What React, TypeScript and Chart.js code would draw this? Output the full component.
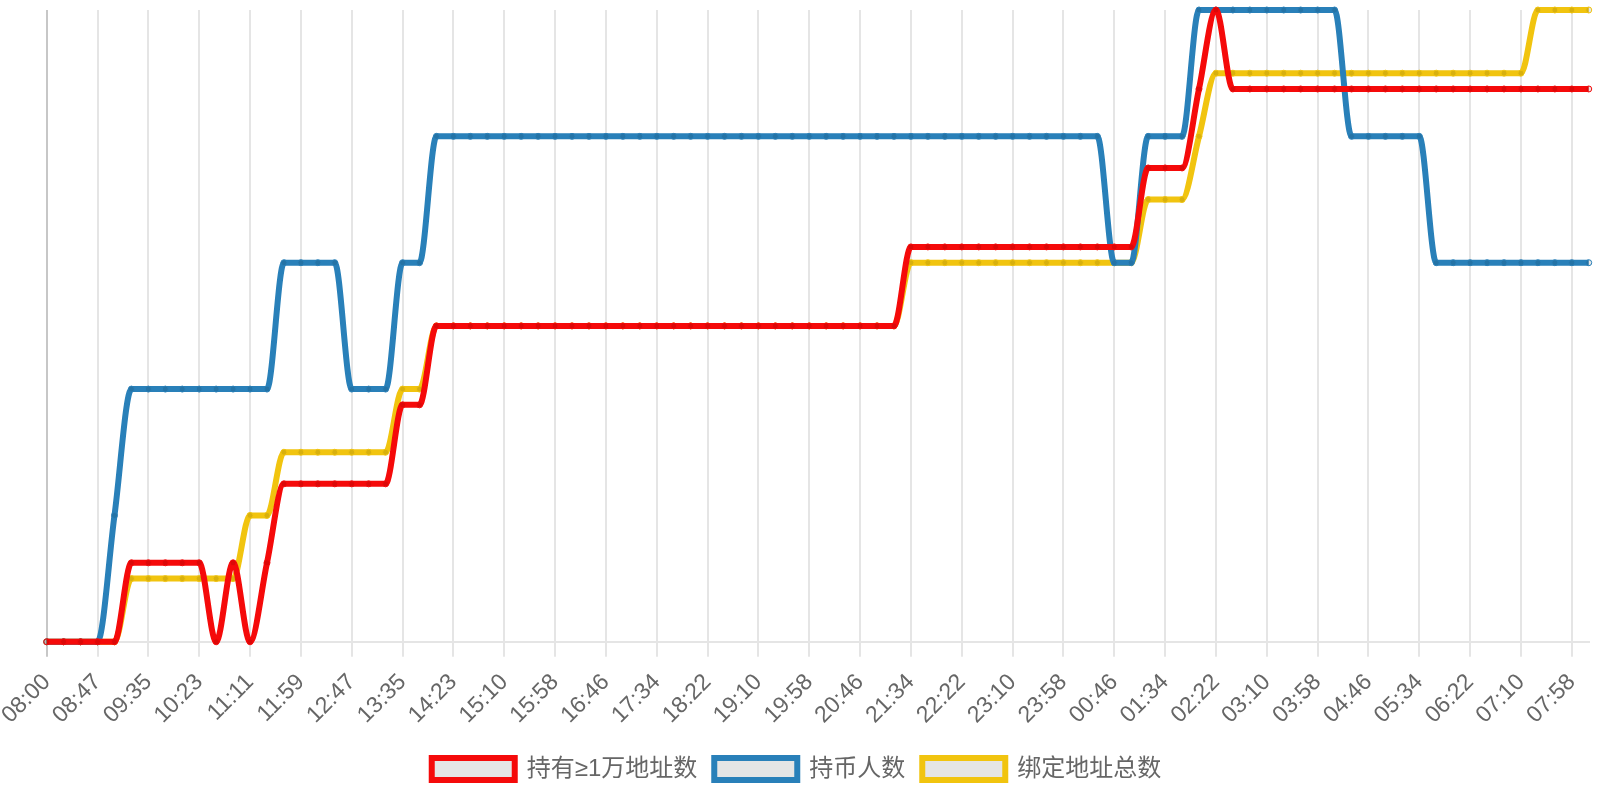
import React, { useEffect, useRef } from 'react';
import { Chart, registerables } from 'chart.js';

Chart.register(...registerables);

// time of each sample (only every 3rd one is shown on the axis)
const timeLabels = [
  '08:00', '08:16', '08:31', '08:47', '09:03', '09:19', '09:35', '09:51', '10:07',
  '10:23', '10:39', '10:55', '11:11', '11:27', '11:43', '11:59', '12:15', '12:31',
  '12:47', '13:03', '13:19', '13:35', '13:51', '14:07', '14:23', '14:39', '14:54',
  '15:10', '15:26', '15:42', '15:58', '16:14', '16:30', '16:46', '17:02', '17:18',
  '17:34', '17:50', '18:06', '18:22', '18:38', '18:54', '19:10', '19:26', '19:42',
  '19:58', '20:14', '20:30', '20:46', '21:02', '21:18', '21:34', '21:50', '22:06',
  '22:22', '22:38', '22:54', '23:10', '23:26', '23:42', '23:58', '00:14', '00:30',
  '00:46', '01:02', '01:18', '01:34', '01:50', '02:06', '02:22', '02:38', '02:54',
  '03:10', '03:26', '03:42', '03:58', '04:14', '04:30', '04:46', '05:02', '05:18',
  '05:34', '05:50', '06:06', '06:22', '06:38', '06:54', '07:10', '07:26', '07:42',
  '07:58', '08:13',
];

// 持有≥1万地址数
const bigHolders = [
  0, 0, 0, 0, 0, 1, 1, 1, 1, 1,
  0, 1, 0, 1, 2, 2, 2, 2, 2, 2,
  2, 3, 3, 4, 4, 4, 4, 4, 4, 4,
  4, 4, 4, 4, 4, 4, 4, 4, 4, 4,
  4, 4, 4, 4, 4, 4, 4, 4, 4, 4,
  4, 5, 5, 5, 5, 5, 5, 5, 5, 5,
  5, 5, 5, 5, 5, 6, 6, 6, 7, 8,
  7, 7, 7, 7, 7, 7, 7, 7, 7, 7,
  7, 7, 7, 7, 7, 7, 7, 7, 7, 7,
  7, 7,
];

// 持币人数
const holders = [
  0, 0, 0, 0, 1, 2, 2, 2, 2, 2,
  2, 2, 2, 2, 3, 3, 3, 3, 2, 2,
  2, 3, 3, 4, 4, 4, 4, 4, 4, 4,
  4, 4, 4, 4, 4, 4, 4, 4, 4, 4,
  4, 4, 4, 4, 4, 4, 4, 4, 4, 4,
  4, 4, 4, 4, 4, 4, 4, 4, 4, 4,
  4, 4, 4, 3, 3, 4, 4, 4, 5, 5,
  5, 5, 5, 5, 5, 5, 5, 4, 4, 4,
  4, 4, 3, 3, 3, 3, 3, 3, 3, 3,
  3, 3,
];

// 绑定地址总数
const boundAddresses = [
  0, 0, 0, 0, 0, 1, 1, 1, 1, 1,
  1, 1, 2, 2, 3, 3, 3, 3, 3, 3,
  3, 4, 4, 5, 5, 5, 5, 5, 5, 5,
  5, 5, 5, 5, 5, 5, 5, 5, 5, 5,
  5, 5, 5, 5, 5, 5, 5, 5, 5, 5,
  5, 6, 6, 6, 6, 6, 6, 6, 6, 6,
  6, 6, 6, 6, 6, 7, 7, 7, 8, 9,
  9, 9, 9, 9, 9, 9, 9, 9, 9, 9,
  9, 9, 9, 9, 9, 9, 9, 9, 10, 10,
  10, 10,
];

const FONT = "'Liberation Sans', 'Noto Sans CJK SC', sans-serif";

const lineStyle = (color: string) => ({
  borderColor: color,
  backgroundColor: 'rgba(0,0,0,0.1)',
  borderWidth: 6,
  fill: false,
  cubicInterpolationMode: 'monotone' as const,
  pointRadius: 3,
  pointBorderWidth: 1,
  pointBorderColor: color,
  pointBackgroundColor: 'rgba(0,0,0,0.1)',
});

const App: React.FC = () => {
  const chartRef = useRef<HTMLCanvasElement>(null);
  const chartInstanceRef = useRef<Chart | null>(null);

  useEffect(() => {
    if (!chartRef.current) return;
    const ctx = chartRef.current.getContext('2d');
    if (!ctx) return;

    if (chartInstanceRef.current) {
      chartInstanceRef.current.destroy();
    }

    chartInstanceRef.current = new Chart(ctx, {
      type: 'line',
      data: {
        labels: timeLabels,
        datasets: [
          { label: '持有≥1万地址数', data: bigHolders, yAxisID: 'y', ...lineStyle('#f50a0a') },
          { label: '持币人数', data: holders, yAxisID: 'y1', ...lineStyle('#2980b9') },
          { label: '绑定地址总数', data: boundAddresses, yAxisID: 'y2', ...lineStyle('#f1c40f') },
        ],
      },
      options: {
        responsive: true,
        maintainAspectRatio: false,
        animation: false,
        layout: {
          padding: { top: 10, right: 10, left: 3, bottom: 9 },
        },
        scales: {
          x: {
            grid: {
              color: (c: any) => (c.index === 0 ? 'rgba(0,0,0,0.22)' : 'rgba(0,0,0,0.1)'),
              lineWidth: 2,
              tickLength: 15,
            },
            border: { color: 'rgba(0,0,0,0.1)', width: 2 },
            ticks: {
              color: '#666',
              font: { family: FONT, size: 23 },
              padding: 12,
              minRotation: 45,
              maxRotation: 45,
              autoSkip: true,
              maxTicksLimit: 31,
            },
            afterFit: (scale: any) => {
              scale.height -= 1;
              scale.paddingLeft = Math.max(scale.paddingLeft - 6, 0);
              scale.paddingRight = Math.max(scale.paddingRight - 3, 0);
            },
          },
          y: { display: false, bounds: 'data' },
          y1: { display: false, bounds: 'data' },
          y2: { display: false, bounds: 'data' },
        },
        plugins: {
          legend: {
            position: 'bottom',
            labels: {
              color: '#666',
              font: { family: FONT, size: 24 },
              boxWidth: 83,
              boxHeight: 22,
              padding: 17,
            },
          },
          tooltip: { enabled: false },
        },
      },
    });

    return () => {
      if (chartInstanceRef.current) {
        chartInstanceRef.current.destroy();
        chartInstanceRef.current = null;
      }
    };
  }, []);

  return (
    <div style={{ position: 'fixed', left: 0, top: 0, width: '100vw', height: '100vh', background: '#fff' }}>
      <canvas ref={chartRef}></canvas>
    </div>
  );
};

export default App;
